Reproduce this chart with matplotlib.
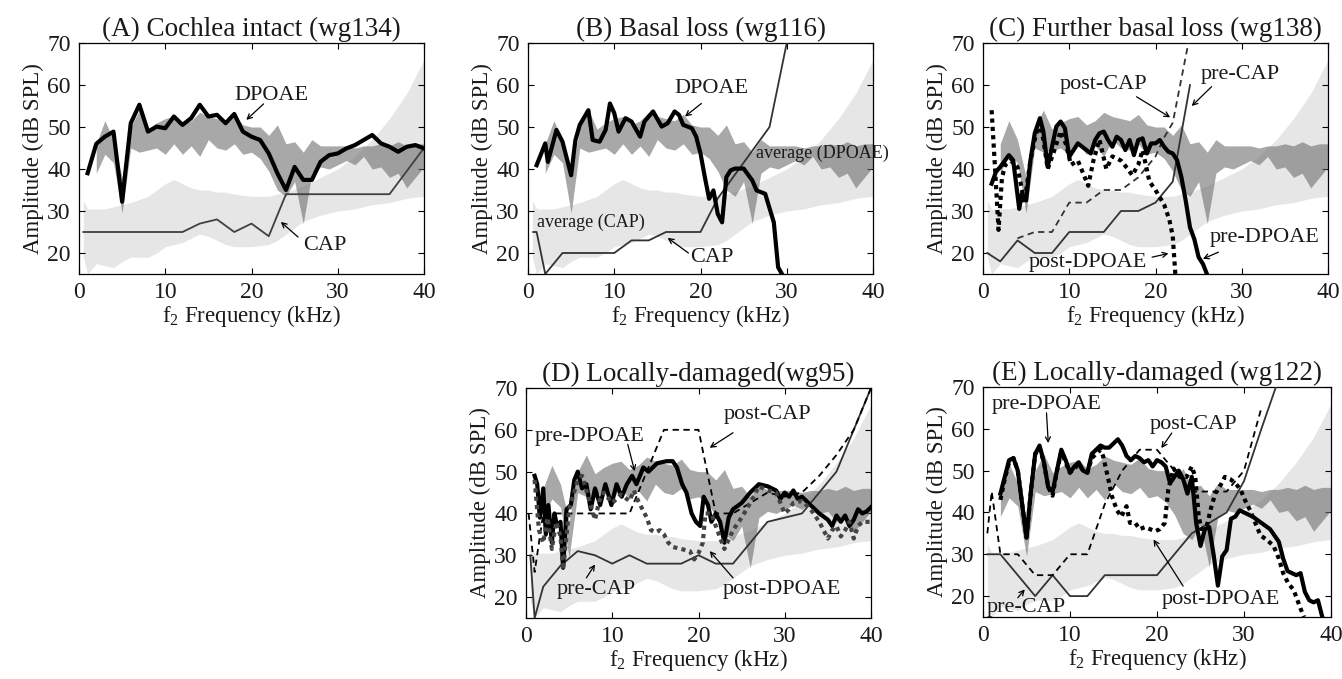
import matplotlib
matplotlib.use("Agg")
import matplotlib.pyplot as plt
import numpy as np

plt.rcParams['font.family'] = ['Liberation Serif', 'DejaVu Serif']
plt.rcParams['mathtext.fontset'] = 'custom'
plt.rcParams['mathtext.rm'] = 'Liberation Serif'
plt.rcParams['mathtext.it'] = 'Liberation Serif:italic'

# ---- normal ranges (shared by every panel) ----
cap_band_f = [0.5, 1, 2, 3, 4, 5, 6, 8, 9, 10, 11, 12, 13, 14, 15, 16, 17, 18, 20, 22, 23, 24, 26, 28, 30, 32, 33, 34, 36, 37, 38, 39, 40]
cap_band_hi = [32.5, 30.5, 30.5, 30.5, 31, 31.5, 32, 33.5, 35, 36.5, 37.5, 36.5, 35.5, 35, 35, 34.5, 34.5, 34, 33.5, 33.5, 34, 34.5, 36, 38, 40, 43, 45, 47, 52, 55, 58, 62, 66]
cap_band_lo = [19, 15, 17.5, 17, 16.5, 18, 19, 19, 20, 21.5, 22, 22.5, 23.5, 24.5, 24, 23, 22, 21.5, 21.5, 22, 23, 24.5, 27.5, 29, 30, 30.5, 31, 31.5, 32, 32.5, 33, 33.3, 33.5]

dp_band_f = list(range(2, 41))
dp_band_hi = [46, 51.5, 47, 38, 50, 54, 49.5, 51, 52, 52.5, 50.5, 51.5, 53.5, 52.5, 52, 51.5, 53, 50.5, 50, 50,
              48, 50.5, 46, 46.5, 44, 47, 45.5, 45.5, 45.5, 45.5, 45, 45.5, 45.5, 46, 45.5, 46.5, 45.5, 46, 46]
dp_band_lo = [39, 43.5, 41.5, 29.5, 45, 44, 44.5, 45, 43.5, 46, 43.5, 45.5, 43, 47, 45, 44.5, 46, 43.5, 44, 42.5,
              39.5, 35, 33.5, 37, 27, 39, 40.5, 40, 41, 42, 41, 43, 40, 40.5, 38, 39, 35.5, 38, 40.5]

# ---- (A) wg134 ----
a_dp_f = list(range(1, 41))
a_dp = [39, 46, 47.7, 48.9, 32.2, 50.9, 55.3, 48.9, 50.1, 49.7, 52.5, 50.5, 52.1, 55.3, 52.5, 52.9, 50.9, 53.1, 48.9, 47.7,
        46.9, 43.7, 39, 35, 40.5, 37.4, 37.4, 41.7, 43.3, 43.7, 44.9, 45.7, 46.9, 48.1, 46.1, 45.3, 44.1, 45.3, 45.7, 44.9]
a_cap_f = [0.5, 12, 14, 16, 18, 20, 22, 24, 36, 40]
a_cap = [25, 25, 27, 28, 25, 27, 24, 34, 34, 45]

# ---- (B) wg116 ----
b_dp_f = [1, 2, 2.3, 3.3, 4, 5, 5.5, 6, 7, 7.5, 8.3, 9, 9.5, 10, 10.5, 11.3, 12, 13, 13.5, 14.5, 15.5, 16.2, 17, 17.5,
          18, 19, 19.5, 20, 20.5, 21, 21.5, 22, 22.5, 23, 23.5, 24, 25, 26, 26.5, 27.5, 28.5, 29, 29.5]
b_dp = [40.9, 46.1, 41.7, 49.3, 46.5, 38.5, 46.9, 50.5, 54, 46.9, 46.5, 49.3, 55.6, 53.3, 48.9, 52.1, 51.3, 47.7, 51.3,
        53.7, 50.1, 50.9, 53.7, 52.9, 50.5, 49.7, 47.7, 43.7, 38.1, 32.9, 34.9, 29.3, 27.3, 38.1, 39.7, 40.1, 40.1, 37.3,
        34.9, 34.1, 27.3, 16.6, 14.8]
b_cap_f = [0.6, 1, 2, 4, 10, 12, 14, 16, 20, 22, 28, 30, 31]
b_cap = [25, 25, 15, 20, 20, 23, 23, 25, 25, 33, 50, 70, 80]

# ---- (C) wg138 ----
c_pre_dp_f = [1, 1.5, 2, 3, 3.5, 4.2, 4.5, 5, 5.5, 6, 6.6, 7, 7.5, 8, 8.5, 9, 9.5, 10, 10.5, 11, 11.5, 12, 12.5, 13,
              13.5, 14, 14.5, 15, 15.5, 16, 16.5, 17, 17.5, 18, 18.5, 19, 19.5, 20, 20.5, 21, 21.5, 22, 22.5, 23, 23.5,
              24, 24.5, 25, 25.5, 26]
c_pre_dp = [36.5, 39.3, 40.5, 43.3, 42.1, 30.5, 34.1, 32.5, 42.1, 48.5, 52.1, 48.9, 40.5, 45.3, 50.1, 51.3, 49.7, 42.9,
            44.5, 46.1, 45.3, 44.5, 43.7, 46.9, 48.5, 48.9, 46.9, 45.3, 47.7, 46.9, 44.5, 46.9, 43.3, 46.9, 47.3, 43.7,
            46.1, 46.1, 46.9, 45.3, 44.1, 43.7, 42.1, 38.1, 32.5, 26.1, 23.3, 19, 17.4, 14.8]
c_post_dp_f = [1, 1.4, 1.8, 2.2, 2.6, 3.2, 4, 4.8, 5.5, 6, 6.5, 7, 7.5, 8.2, 9, 9.6, 10.2, 11, 11.6, 12.2, 12.8, 13.5,
               14.3, 15, 16, 16.8, 17.3, 18, 18.5, 19.3, 20, 21, 21.6, 22, 22.3]
c_post_dp = [54, 40, 25.5, 38, 41, 42, 40.5, 32, 42, 47, 51, 47, 40, 44, 49, 46, 41, 42, 39, 36, 42, 47, 40, 43, 42,
             40, 38.5, 41, 44.5, 37, 35, 31.5, 28, 24, 15]
c_pre_cap_f = [0.5, 2, 4, 6, 8, 10, 14, 16, 18, 20, 22, 24]
c_pre_cap = [20, 18, 23, 20, 20, 25, 25, 30, 30, 32, 37, 60]
c_post_cap_f = [4, 6, 8, 10, 12, 14, 16, 18, 20, 21, 22, 24]
c_post_cap = [23.5, 25, 25, 32, 32, 35, 35, 38, 43, 47.5, 51, 72]

# ---- (D) wg95 ----
d_pre_dp_f = [1.0, 1.3, 1.6, 2.0, 2.3, 2.6, 3.0, 3.3, 3.6, 4.0, 4.3, 4.7, 5.2, 5.6, 6.0, 6.5, 7.0, 7.5, 8.0, 8.6, 9.2,
              9.9, 10.5, 11.1, 11.7, 12.3, 12.8, 13.6, 14.2, 15.2, 16.3, 17.0, 17.5, 18.1, 18.6, 19.2, 19.7, 20.2, 20.6,
              21.1, 21.5, 22.0, 22.5, 23.0, 23.5, 24.0, 25.0, 26.0, 27.0, 28.0, 29.0, 29.5, 30.0, 30.5, 31.0, 31.5,
              32.0, 33.0, 34.0, 35.0, 35.5, 36.0, 36.5, 37.0, 37.5, 38.0, 38.5, 39.0, 39.5, 40.0]
d_pre_dp = [49, 47, 39, 46, 35, 42, 33, 40, 37, 38, 27, 41, 42, 48, 50, 46, 47, 41, 46, 42, 47, 42, 47, 44, 47, 49, 47,
            51, 50, 52, 52.5, 52.5, 51, 47, 45, 40, 38, 37, 44, 42, 38, 40, 38, 33, 39, 41, 42.5, 45, 47, 46.5, 45.5,
            43.5, 45, 44, 45.5, 43.5, 44, 42, 40, 38.5, 37, 39.5, 38, 39.5, 37, 38.5, 41, 40, 40.5, 41.5]
d_post_dp_f = [1.0, 1.5, 2.0, 2.5, 3.0, 3.5, 4.0, 4.3, 5.0, 6.0, 6.5, 7.0, 8.0, 8.5, 9.0, 10.0, 11.0, 12.0, 12.5, 13.0,
               13.5, 14.0, 14.5, 15.0, 15.5, 16.0, 16.5, 17.0, 18.0, 19.0, 19.5, 20.0, 20.5, 20.8, 21.5, 22.0, 23.0,
               24.0, 25.0, 26.0, 27.0, 28.0, 29.0, 30.0, 30.5, 31.0, 32.0, 33.0, 34.0, 35.0, 35.5, 36.0, 36.5, 37.0,
               37.5, 38.0, 38.5, 39.0, 40.0]
d_post_dp = [48, 36, 33, 39, 31.5, 38, 34.5, 26.5, 41, 48, 49, 45.5, 38.5, 43, 45, 42.5, 44.5, 43, 45.5, 43, 41, 39, 36,
             35.5, 36, 35, 33, 32, 31.5, 31, 29, 30.5, 33, 40, 40, 37, 31.5, 36, 39, 42.5, 46.5, 45.5, 45, 40, 41,
             42.5, 43, 41, 38, 34, 36, 37, 34.5, 36, 38, 34, 37, 38, 38]
d_pre_cap_f = [0.5, 1, 2, 4, 6, 8, 10, 12, 14, 18, 20, 22, 24, 28, 32, 36, 40]
d_pre_cap = [30, 15, 22.5, 27.5, 31, 30, 28, 30, 28, 28, 30, 28, 28, 38, 40, 50, 70]
d_post_cap_f = [0.3, 1, 2, 12, 16, 20, 22, 24, 28, 30, 32, 34, 36, 38, 40]
d_post_cap = [40, 26, 40, 40, 60, 60, 40, 40, 45, 44, 45, 49, 54, 60, 70]

# ---- (E) wg122 ----
e_pre_dp_f = [2, 2.5, 3, 3.5, 4, 4.5, 5, 5.5, 6, 6.5, 7, 7.5, 8, 8.5, 9, 9.5, 10, 10.5, 11, 11.5, 12, 12.5, 13, 13.5,
              14, 14.5, 15, 15.5, 16, 16.5, 17, 17.5, 18, 18.5, 19, 19.5, 20, 20.5, 21, 21.5, 22, 22.5, 23, 23.5, 24,
              24.5, 25, 25.5, 26, 26.5, 27, 27.5, 28, 28.5, 29, 29.5, 30, 31, 32, 33, 34, 34.5, 35, 35.5, 36, 36.5,
              37, 37.5, 38, 38.5, 39]
e_pre_dp = [44.5, 48.5, 52.5, 53, 50, 42, 34, 45, 54, 56, 52, 46, 45, 50, 55, 52.5, 49.5, 51, 52, 50, 49.5, 54, 55, 56,
            55.5, 55.5, 56.5, 57.5, 56, 53.5, 52.5, 53.5, 53, 52, 52.5, 51, 52.5, 52, 51, 47, 48.5, 50, 48, 44.5, 48.5,
            37.5, 32, 36, 36.5, 30, 22.5, 29.5, 31, 38.5, 39, 40.5, 40, 39, 37.5, 36, 33, 29, 26, 25.5, 25, 25.5, 21,
            19, 18.5, 19, 15]
e_post_dp_f = [2, 2.5, 3, 3.5, 4, 4.5, 5, 5.5, 6, 6.5, 7, 7.5, 8, 8.5, 9, 9.5, 10, 10.5, 11, 11.5, 12, 12.5, 13, 13.5,
               13.8, 14.4, 14.8, 15.4, 15.9, 16.5, 16.9, 17.5, 18, 18.6, 19.2, 19.8, 20.3, 20.9, 21.3, 21.9, 22.6,
               23.4, 24, 24.4, 24.8, 25.1, 25.7, 26.2, 26.7, 27.3, 27.8, 28.4, 29, 29.6, 30.1, 30.7, 31.3, 31.9, 32.6,
               33.4, 34, 34.5, 35.1, 35.7, 36.5, 36.9]
e_post_dp = [43, 48, 52, 53, 50, 42, 34, 45, 54, 55.5, 52, 46, 44, 50, 54.5, 52, 49.5, 50.5, 51.5, 50, 49.5, 53, 54,
             55, 53.5, 48, 44, 40.5, 39, 41.5, 37.5, 37.5, 36, 36.5, 36, 35.5, 36, 37.5, 45.5, 50.5, 48.5, 48.5, 51,
             48.5, 39, 36, 36.5, 41, 44.5, 46.5, 48.5, 48, 47, 45.5, 43, 40.5, 37.5, 34.5, 33.5, 32, 29, 25.5, 23,
             21.5, 17, 15]
e_pre_cap_f = [0.5, 2, 6, 8, 10, 12, 14, 20, 24, 26, 28, 30, 32, 34]
e_pre_cap = [30, 30, 20, 25, 20, 20, 25, 25, 35, 37.5, 40, 47.5, 60, 72]
e_post_cap_f = [0.5, 1, 2, 4, 6, 8, 10, 12, 14, 16, 18, 20, 22, 24, 28, 30, 32]
e_post_cap = [35, 45, 30, 30, 25, 25, 30, 30, 42, 50, 55, 55, 50, 45, 45, 50, 65]

TXT = '#1a1a1a'
THIN = '#333333'
DOT = (0, (1, 1))
DASH = (0, (3.5, 2.5))


def setup_axes(ax, title):
    # shaded normal ranges first
    ax.fill_between(cap_band_f, cap_band_lo, cap_band_hi, color='#e6e6e6', lw=0, zorder=1)
    ax.fill_between(dp_band_f, dp_band_lo, dp_band_hi, color='#6e6e6e', alpha=0.6, lw=0, zorder=2)
    ax.set_xlim(0, 40)
    ax.set_ylim(15, 70)
    ax.set_xticks([0, 10, 20, 30, 40])
    ax.set_yticks([20, 30, 40, 50, 60, 70])
    ax.tick_params(direction='in', top=True, right=True, length=4, width=0.8,
                   labelsize=17, labelcolor=TXT, pad=6)
    for s in ax.spines.values():
        s.set_linewidth(0.9)
    ax.set_title(title, fontsize=19.5, color=TXT, pad=5)
    ax.set_xlabel(r'f$_2$ Frequency (kHz)', fontsize=16.5, color=TXT, labelpad=0)
    ax.set_ylabel('Amplitude (dB SPL)', fontsize=16.5, color=TXT, labelpad=2)


def label(ax, txt, pos, tail, head, size=16):
    ax.text(pos[0], pos[1], txt, fontsize=size, color=TXT, ha='center', va='center', zorder=6)
    if tail is not None:
        ax.annotate('', xy=head, xytext=tail, zorder=6,
                    arrowprops=dict(arrowstyle='->,head_length=0.35,head_width=0.18', lw=0.9, color='k',
                                    shrinkA=0, shrinkB=0))


fig = plt.figure(figsize=(13.42, 6.79), dpi=100)
W = 345 / 1342
H = 231 / 679
ax_a = fig.add_axes([79 / 1342, 1 - 274 / 679, W, H])
ax_b = fig.add_axes([528 / 1342, 1 - 274 / 679, W, H])
ax_c = fig.add_axes([983 / 1342, 1 - 274 / 679, W, H])
ax_d = fig.add_axes([526 / 1342, 1 - 618 / 679, W, 230 / 679])
ax_e = fig.add_axes([983 / 1342, 1 - 617 / 679, 348 / 1342, 230 / 679])

# (A)
setup_axes(ax_a, '(A) Cochlea intact (wg134)')
ax_a.plot(a_cap_f, a_cap, color='#404040', lw=1.3, zorder=3)
ax_a.plot(a_dp_f, a_dp, color='k', lw=3, zorder=4)
label(ax_a, 'DPOAE', (22.3, 57.5), (21.4, 55.5), (19.4, 51.7))
label(ax_a, 'CAP', (28.5, 21.8), (25.4, 23.8), (23.4, 27.4))

# (B)
setup_axes(ax_b, '(B) Basal loss (wg116)')
ax_b.plot(b_cap_f, b_cap, color=THIN, lw=1.3, zorder=3)
ax_b.plot(b_dp_f, b_dp, color='k', lw=3, zorder=4)
label(ax_b, 'DPOAE', (21.3, 59.2), (20.1, 55.6), (18.2, 52.5))
label(ax_b, 'CAP', (21.3, 19), (18.6, 20), (16.2, 23.6))
ax_b.text(26.4, 43.7, 'average (DPOAE)', fontsize=13, color=TXT, ha='left', va='center', zorder=6)
ax_b.text(1.0, 27.3, 'average (CAP)', fontsize=13, color=TXT, ha='left', va='center', zorder=6)

# (C)
setup_axes(ax_c, '(C) Further basal loss (wg138)')
ax_c.plot(c_pre_cap_f, c_pre_cap, color=THIN, lw=1.3, zorder=3)
ax_c.plot(c_post_cap_f, c_post_cap, color=THIN, lw=1.3, ls=DASH, zorder=3)
ax_c.plot(c_post_dp_f, c_post_dp, color='k', lw=3, ls=DOT, zorder=4)
ax_c.plot(c_pre_dp_f, c_pre_dp, color='k', lw=3, zorder=4)
label(ax_c, 'post-CAP', (14, 60), (17.8, 57.2), (21.7, 52.3))
label(ax_c, 'pre-CAP', (29.8, 62.4), (26.5, 59.6), (24.2, 55))
label(ax_c, 'pre-DPOAE', (32.7, 23.7), (27.3, 20.2), (25.5, 18.6))
label(ax_c, 'post-DPOAE', (12.2, 17.8), (19.6, 19), (21.5, 19.9))

# (D)
setup_axes(ax_d, '(D) Locally-damaged(wg95)')
ax_d.plot(d_pre_cap_f, d_pre_cap, color=THIN, lw=1.3, zorder=3)
ax_d.plot(d_post_cap_f, d_post_cap, color='k', lw=1.3, ls=DASH, zorder=3)
ax_d.plot(d_pre_dp_f, d_pre_dp, color='k', lw=3, zorder=4)
ax_d.plot(d_post_dp_f, d_post_dp, color='#444444', lw=3, ls=DOT, zorder=4)
label(ax_d, 'post-CAP', (28, 63.6), (24, 59.3), (21.3, 55.7))
label(ax_d, 'pre-DPOAE', (7.4, 58.5), (11.8, 56.5), (12.6, 50.1))
label(ax_d, 'pre-CAP', (8.2, 21.8), (7, 24.6), (8, 27.8))
label(ax_d, 'post-DPOAE', (29.7, 21.8), (24, 24.6), (21.3, 31))

# (E)
setup_axes(ax_e, '(E) Locally-damaged (wg122)')
ax_e.plot(e_pre_cap_f, e_pre_cap, color=THIN, lw=1.3, zorder=3)
ax_e.plot(e_post_cap_f, e_post_cap, color='k', lw=1.3, ls=DASH, zorder=3)
ax_e.plot(e_pre_dp_f, e_pre_dp, color='k', lw=3, zorder=4)
ax_e.plot(e_post_dp_f, e_post_dp, color='k', lw=3, ls=DOT, zorder=4)
label(ax_e, 'pre-DPOAE', (7.3, 65.8), (7.3, 63.8), (7.5, 56.6))
label(ax_e, 'post-CAP', (24.2, 61), (21.7, 59), (20.5, 55.4))
label(ax_e, 'post-DPOAE', (27.3, 19.2), (23, 22.4), (19.6, 33.5))
label(ax_e, 'pre-CAP', (5, 17.2), (4, 19.6), (4.8, 21.6))

fig.savefig('out.png', dpi=100)
